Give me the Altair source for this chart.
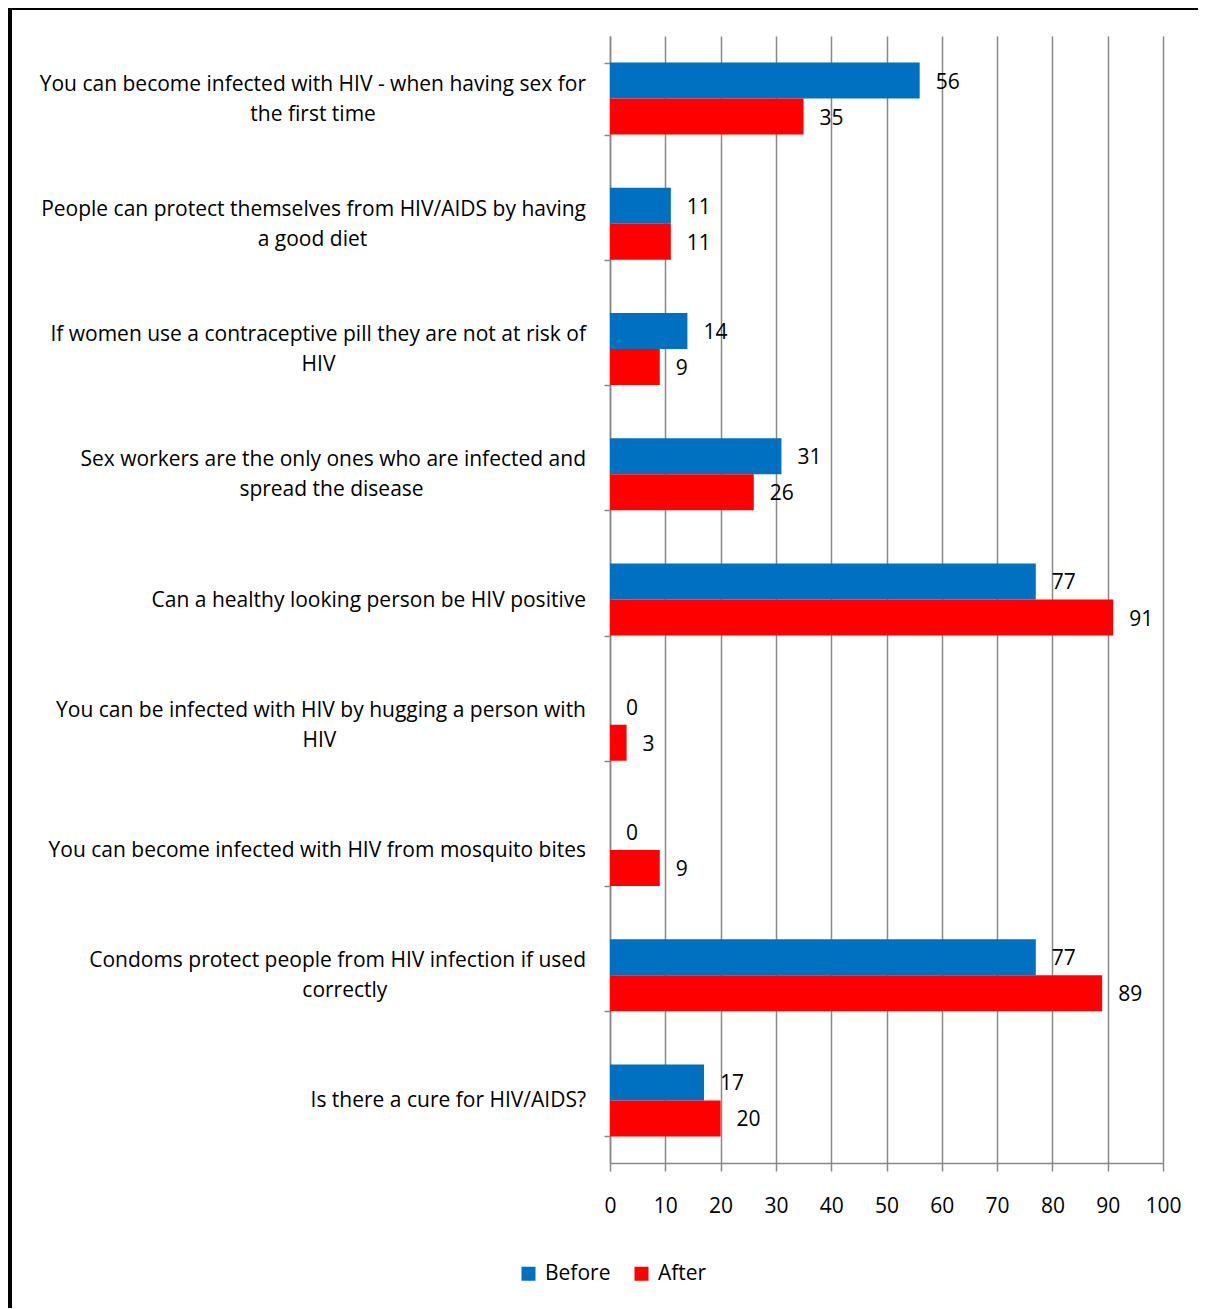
import altair as alt
import pandas as pd

questions = [
    "You can become infected with HIV - when having sex for|the first time",
    "People can protect themselves from HIV/AIDS by having|a good diet",
    "If women use a contraceptive pill they are not at risk of|HIV",
    "Sex workers are the only ones who are infected and|spread the disease",
    "Can a healthy looking person be HIV positive",
    "You can be infected with HIV by hugging a person with|HIV",
    "You can become infected with HIV from mosquito bites",
    "Condoms protect people from HIV infection if used|correctly",
    "Is there a cure for HIV/AIDS?",
]
before = [56, 11, 14, 31, 77, 0, 0, 77, 17]
after = [35, 11, 9, 26, 91, 3, 9, 89, 20]
series = ["Before", "After"]
colors = ["#0070C0", "#FF0000"]
x_ticks = [0, 10, 20, 30, 40, 50, 60, 70, 80, 90, 100]

rows = []
for q, b, a in zip(questions, before, after):
    rows.append({"question": q, "series": "Before", "value": b})
    rows.append({"question": q, "series": "After", "value": a})
df = pd.DataFrame(rows)

label_rows = []
for q in questions:
    parts = q.split("|")
    label_rows.append({
        "question": q,
        "line1": parts[0],
        "line2": parts[1] if len(parts) > 1 else "",
        "nlines": len(parts),
    })
ldf = pd.DataFrame(label_rows)

FONT = "Open Sans"
GRID = "#888888"
LABEL_SIZE = 21
PX_PER_UNIT = 553 / 100
WIDE_W = 12.7
NARROW_W = 5.7
LABEL_GAP = 24

y_enc = alt.Y(
    "question:N",
    sort=questions,
    scale=alt.Scale(paddingInner=0.425, paddingOuter=0.2125),
    axis=alt.Axis(
        title=None,
        labels=False,
        tickBand="extent",
        tickSize=6,
        tickColor=GRID,
        tickWidth=1.5,
        domainColor=GRID,
        domainWidth=1.5,
        grid=False,
    ),
)
x_enc = alt.X(
    "value:Q",
    scale=alt.Scale(domain=[0, 100], nice=False),
    axis=alt.Axis(
        title=None,
        values=x_ticks,
        labelFontSize=21,
        labelFont=FONT,
        labelColor="black",
        labelPadding=24,
        labelBaseline="top",
        labelFlush=False,
        tickSize=8,
        tickColor=GRID,
        tickWidth=1.5,
        domainColor=GRID,
        domainWidth=1.5,
        grid=True,
        gridColor=GRID,
        gridWidth=1.5,
    ),
)
yoff = alt.YOffset("series:N", sort=series, scale=alt.Scale(paddingInner=0, paddingOuter=0))

base = alt.Chart(df)

bars = base.mark_bar().encode(
    x=x_enc,
    y=y_enc,
    yOffset=yoff,
    color=alt.Color(
        "series:N",
        sort=series,
        scale=alt.Scale(domain=series, range=colors),
        legend=alt.Legend(
            title=None,
            orient="none",
            legendX=-92,
            legendY=1227,
            direction="horizontal",
            symbolType="square",
            symbolSize=196,
            symbolStrokeWidth=0,
            labelFontSize=21,
            labelFont=FONT,
            labelColor="black",
            labelOffset=6,
            columnPadding=20,
        ),
    ),
)

values_text = base.mark_text(
    align="left", baseline="middle", dx=16, dy=2, fontSize=21, font=FONT, color="black"
).encode(
    x="value:Q",
    y=alt.Y("question:N", sort=questions),
    yOffset=alt.YOffset("series:N", sort=series),
    text="value:Q",
)

lbase = alt.Chart(ldf)
lab_kw = dict(baseline="middle", fontSize=LABEL_SIZE, font=FONT, color="black")
lab_single = lbase.transform_filter("datum.nlines == 1").mark_text(
    align="right", dy=1, **lab_kw
).encode(x=alt.value(-LABEL_GAP), y=alt.Y("question:N", sort=questions), text="line1:N")
lab_first = lbase.transform_filter("datum.nlines == 2").mark_text(
    align="right", dy=-14, **lab_kw
).encode(x=alt.value(-LABEL_GAP), y=alt.Y("question:N", sort=questions), text="line1:N")
lab_second = (
    lbase.transform_filter("datum.nlines == 2")
    .transform_calculate(
        nn="length(datum.line1) - length(replace(datum.line1, regexp('[iljtfrI -]', 'g'), ''))"
    )
    .transform_calculate(
        w1=f"datum.nn * {NARROW_W} + (length(datum.line1) - datum.nn) * {WIDE_W}"
    )
    .transform_calculate(
        cx=f"(-{LABEL_GAP} - datum.w1 / 2) / {PX_PER_UNIT}"
    )
    .mark_text(align="center", dy=16, **lab_kw)
    .encode(x="cx:Q", y=alt.Y("question:N", sort=questions), text="line2:N")
)

top_border = alt.Chart(df).mark_rule(color="black", strokeWidth=2.5).encode(
    x=alt.value(-601), x2=alt.value(1200), y=alt.value(-28)
)
left_border = alt.Chart(df).mark_rule(color="black", strokeWidth=2.5).encode(
    x=alt.value(-600), y=alt.value(-28), y2=alt.value(1320)
)

chart = (
    alt.layer(bars, values_text, lab_single, lab_first, lab_second, top_border, left_border)
    .properties(
        width=553,
        height=1127,
        autosize=alt.AutoSizeParams(type="none"),
        padding={"left": 602, "top": 28, "right": 35, "bottom": 145},
    )
    .configure_view(stroke=None)
)

chart.save("out.html", embed_options={"renderer": "svg", "actions": False})
